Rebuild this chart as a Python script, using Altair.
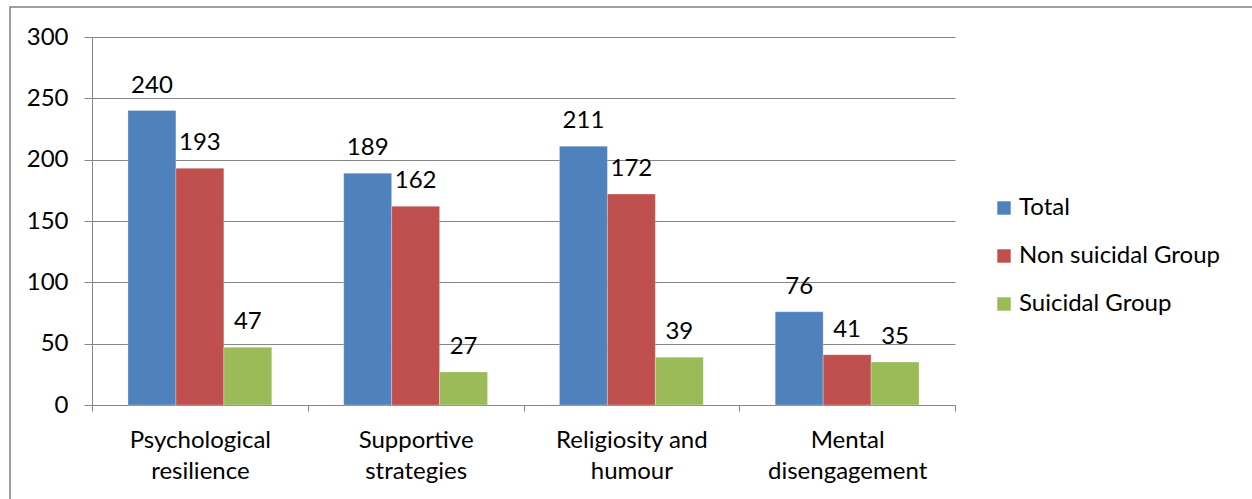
import altair as alt
import pandas as pd

categories = ["Psychological|resilience", "Supportive|strategies", "Religiosity and|humour", "Mental|disengagement"]
series = ["Total", "Non suicidal Group", "Suicidal Group"]
total = [240, 189, 211, 76]
non_suicidal = [193, 162, 172, 41]
suicidal = [47, 27, 39, 35]
colors = ["#4F81BD", "#C0504D", "#9BBB59"]

rows = []
for i, cat in enumerate(categories):
    for s, vals in zip(series, [total, non_suicidal, suicidal]):
        rows.append({"category": cat, "group": s, "value": vals[i]})
df = pd.DataFrame(rows)

FONT = "Lato"
FS = 24
GRID = "#868686"
W, H = 863, 368

x_enc = alt.X(
    "category:N",
    sort=categories,
    scale=alt.Scale(paddingInner=0, paddingOuter=0),
    axis=alt.Axis(
        title=None,
        labelAngle=0,
        labelExpr="split(datum.label, '|')",
        labelFont=FONT,
        labelFontSize=FS,
        labelColor="#000000",
        labelLineHeight=31,
        labelPadding=17,
        labelLimit=0,
        tickBand="extent",
        tickSize=6,
        tickColor=GRID,
        domainColor=GRID,
        grid=False,
    ),
)
xoff = alt.XOffset("group:N", sort=series, scale=alt.Scale(paddingOuter=0.75, paddingInner=0))
y_enc = alt.Y(
    "value:Q",
    scale=alt.Scale(domain=[0, 300], nice=False),
    axis=alt.Axis(
        title=None,
        values=[0, 50, 100, 150, 200, 250, 300],
        labelFont=FONT,
        labelFontSize=FS,
        labelColor="#000000",
        labelPadding=16,
        tickSize=8,
        tickColor=GRID,
        domainColor=GRID,
        gridColor=GRID,
        gridOpacity=1,
    ),
)
color_enc = alt.Color(
    "group:N",
    sort=series,
    scale=alt.Scale(domain=series, range=colors),
    legend=alt.Legend(
        title=None,
        orient="none",
        legendX=900,
        legendY=159,
        symbolType="square",
        symbolSize=180,
        symbolStrokeWidth=0,
        labelFont=FONT,
        labelFontSize=FS,
        labelColor="#000000",
        labelLimit=0,
        rowPadding=24,
        labelOffset=3,
    ),
)

base = alt.Chart(df)
bars = base.mark_bar(stroke="#ffffff", strokeOpacity=0.35, strokeWidth=0.8).encode(
    x=x_enc, xOffset=xoff, y=y_enc, color=color_enc
)
labels = base.mark_text(baseline="alphabetic", dy=-18, font=FONT, fontSize=FS, color="#000000").encode(
    x=alt.X("category:N", sort=categories), xOffset=alt.XOffset("group:N", sort=series), y="value:Q", text="value:Q"
)
# frame around the whole figure
frame = alt.Chart(pd.DataFrame({"k": [0]})).mark_rect(
    fill=None, stroke="#808080", strokeWidth=1.5, clip=False
).encode(x=alt.value(-82), x2=alt.value(1200), y=alt.value(-30), y2=alt.value(500))

chart = alt.layer(frame, bars, labels).properties(
    width=W, height=H,
    autosize=alt.AutoSizeParams(type="none"),
    padding={"left": 92, "top": 37, "right": 297, "bottom": 94},
).configure_view(stroke=None).configure_axis(domainWidth=1, tickWidth=1, gridWidth=1)

chart.save("out.html", embed_options={"renderer": "svg", "actions": False})
